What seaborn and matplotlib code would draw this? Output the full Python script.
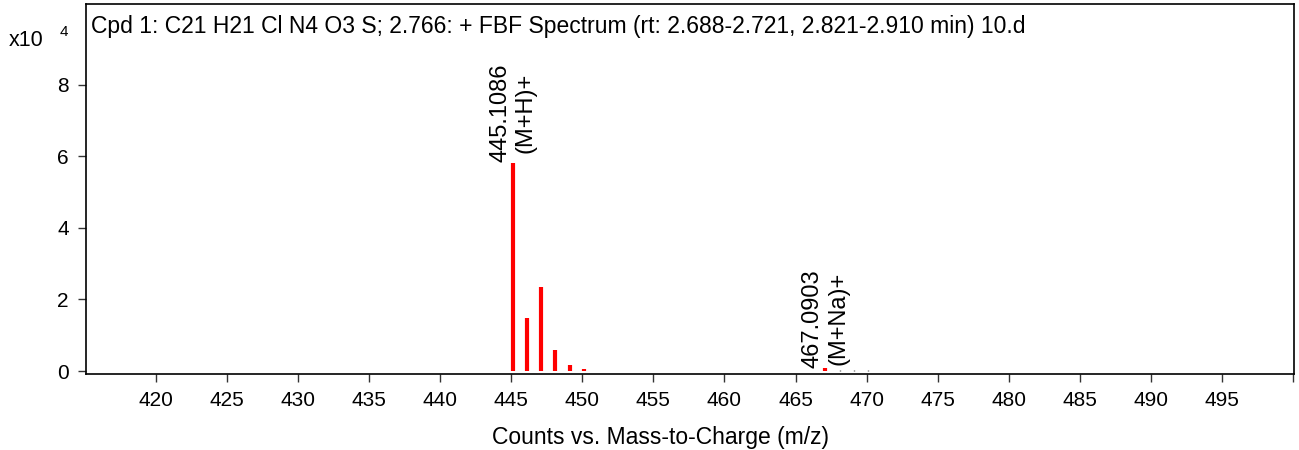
import matplotlib
matplotlib.use("Agg")
import matplotlib.pyplot as plt
import seaborn as sns
import numpy as np

# Data
mz = [445.1086, 446.111, 447.106, 448.109, 449.104, 450.106, 467.0903]
intensity = [5.82, 1.48, 2.34, 0.58, 0.16, 0.07, 0.08]
minor_mz = [468.09, 469.09, 470.09]
minor_int = [0.02, 0.02, 0.02]
ann_mz = [445.1086, 467.0903]
ann_int = [5.82, 0.08]
ann_text = ["445.1086\n(M+H)+", "467.0903\n(M+Na)+"]
xtick_vals = [420, 425, 430, 435, 440, 445, 450, 455, 460, 465, 470, 475, 480, 485, 490, 495, 500]
xtick_labels = [str(v) for v in xtick_vals[:-1]] + [""]
ytick_vals = [0, 2, 4, 6, 8]
title = "Cpd 1: C21 H21 Cl N4 O3 S; 2.766: + FBF Spectrum (rt: 2.688-2.721, 2.821-2.910 min) 10.d"

sns.set_theme(style="ticks")
plt.rcParams['font.family'] = ['Liberation Sans', 'DejaVu Sans']

fig = plt.figure(figsize=(12.99, 4.5), dpi=100)
ax = fig.add_axes([86/1299, 1-374/450, (1294-86)/1299, (374-4)/450])

ax.vlines(mz, 0, intensity, colors="#ff0000", linewidth=3.0)
ax.vlines(minor_mz, 0, minor_int, colors="#555555", linewidth=1.0)

for x, y, t in zip(ann_mz, ann_int, ann_text):
    ax.text(x, y + 0.02, t, rotation=90, ha="center", va="bottom",
            fontsize=17, color="black", linespacing=1.2)

ax.set_xlim(415.1, 500.05)
ax.set_ylim(-0.08, 10.25)
ax.set_xticks(xtick_vals)
ax.set_xticklabels(xtick_labels)
ax.set_yticks(ytick_vals)
ax.tick_params(axis="both", labelsize=15, direction="out", length=6, width=1, color="#333333", pad=6.5, labelcolor="black")
for s in ax.spines.values():
    s.set_linewidth(1.2)
    s.set_color("black")
    s.set_visible(True)

ax.set_xlabel("Counts vs. Mass-to-Charge (m/z)", fontsize=16.5, color="black")
ax.xaxis.set_label_coords((660-86)/1208, -0.14)

ax.text(0.004, 0.97, title, transform=ax.transAxes, ha="left", va="top", fontsize=16.5, color="black")
fig.text(9/1299, 1-41/450, "x10", fontsize=15.5, ha="left", va="center", color="black")
fig.text(60/1299, 1-32/450, "4", fontsize=11, ha="left", va="center", color="black")

fig.savefig("out.png", dpi=100)
